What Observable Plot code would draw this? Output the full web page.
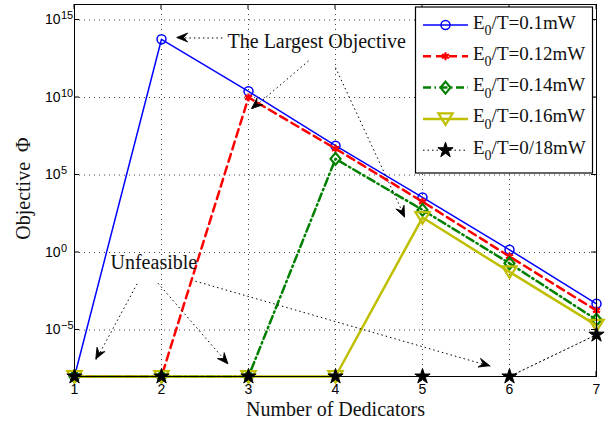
<!DOCTYPE html>
<html><head><meta charset="utf-8">
<script src="https://cdn.jsdelivr.net/npm/d3@7"></script>
<script src="https://cdn.jsdelivr.net/npm/@observablehq/plot@0.6"></script>
<style>
html,body{margin:0;padding:0;background:#fff;}
#wrap{position:relative;width:609px;height:422px;overflow:hidden;}
#wrap svg{position:absolute;left:0;top:0;}
</style></head><body><div id="wrap"></div>
<script>
// ---------- data ----------
const dedicators = [1, 2, 3, 4, 5, 6, 7];
const seriesLabels = ["0.1mW", "0.12mW", "0.14mW", "0.16mW", "0/18mW"];
const phi_010 = [1e-8, 5.7e13, 2.5e10, 7.8e6, 3.6e3, 1.5, 4.9e-4];
const phi_012 = [1e-8, 1e-8, 1.0e10, 5.0e6, 1.9e3, 0.55, 1.8e-4];
const phi_014 = [1e-8, 1e-8, 1e-8, 1.1e6, 5.6e2, 0.2, 4.6e-5];
const phi_016 = [1e-8, 1e-8, 1e-8, 1e-8, 1.8e2, 0.056, 2.0e-5];
const phi_018 = [1e-8, 1e-8, 1e-8, 1e-8, 1e-8, 1e-8, 5.0e-6];
const yTickValues = [1e-5, 1e0, 1e5, 1e10, 1e15];
const yTickExponents = ["\u22125", "0", "5", "10", "15"];
const xLabel = "Number of Dedicators";
const yLabel = "Objective  \u03A6";
const noteTexts = ["The Largest Objective", "Unfeasible"];
const noteX = [2.759, 1.414];
const noteY = [10 ** 13.63, 10 ** -0.64];
const arrowFromX = [2.70, 3.69, 4.00, 1.72, 1.96, 2.39];
const arrowFromY = [10 ** 13.84, 10 ** 12.36, 10 ** 11.93, 10 ** -2.02, 10 ** -1.98, 10 ** -1.85];
const arrowToX = [2.18, 3.04, 4.80, 1.25, 2.77, 5.78];
const arrowToY = [10 ** 13.84, 10 ** 9.25, 10 ** 2.25, 10 ** -6.91, 10 ** -7.22, 10 ** -7.34];

// ---------- styles ----------
const serif = "'Liberation Serif', 'Times New Roman', serif";
const sans = "'Liberation Sans', Arial, sans-serif";
const diamondSym = {draw(c, size) { const r = Math.sqrt(size / Math.PI); c.moveTo(0, -1.2 * r); c.lineTo(r, 0); c.lineTo(0, 1.2 * r); c.lineTo(-r, 0); c.closePath(); }};
const triDownSym = {draw(c, size) { const r = Math.sqrt(size / Math.PI); c.moveTo(-1.3 * r, -1.0 * r); c.lineTo(1.3 * r, -1.0 * r); c.lineTo(0, 1.1 * r); c.closePath(); }};
const seriesValues = [phi_010, phi_012, phi_014, phi_016, phi_018];
const styles = [
  {color: "#0000ff", width: 1.5, dash: null, symbol: "circle", d3sym: d3.symbolCircle, r: 4.5, fill: "none", mw: 1.5},
  {color: "#ff0000", width: 2.5, dash: "8,5", symbol: "asterisk", d3sym: d3.symbolAsterisk, r: 3.8, fill: "none", mw: 2.2},
  {color: "#008000", width: 2.5, dash: "8,3.5,1.5,3.5", symbol: diamondSym, d3sym: diamondSym, r: 5, fill: "none", mw: 2.2},
  {color: "#bfbf00", width: 2.5, dash: null, symbol: triDownSym, d3sym: triDownSym, r: 5.5, fill: "none", mw: 2.2},
  {color: "#000000", width: 1, dash: "1.5,3", symbol: "star", d3sym: d3.symbolStar, r: 4.8, fill: "#000000", mw: 1}
];

// ---------- custom function marks ----------
function innerTicks(index, scales, values, dimensions) {
  const {width, height, marginLeft, marginRight, marginTop, marginBottom} = dimensions;
  const x0 = marginLeft, x1 = width - marginRight, y0 = marginTop, y1 = height - marginBottom;
  const g = d3.create("svg:g").attr("stroke", "black").attr("stroke-width", 1);
  for (const v of dedicators) {
    const x = scales.x(v);
    g.append("line").attr("x1", x).attr("x2", x).attr("y1", y1).attr("y2", y1 - 5);
    g.append("line").attr("x1", x).attr("x2", x).attr("y1", y0).attr("y2", y0 + 5);
  }
  for (const v of yTickValues) {
    const y = scales.y(v);
    g.append("line").attr("x1", x0).attr("x2", x0 + 5).attr("y1", y).attr("y2", y);
    g.append("line").attr("x1", x1).attr("x2", x1 - 5).attr("y1", y).attr("y2", y);
  }
  return g.node();
}
function arrowHeads(index, scales) {
  const g = d3.create("svg:g").attr("fill", "black").attr("stroke", "black").attr("stroke-width", 0.8);
  arrowToX.forEach((_, i) => {
    const xa = scales.x(arrowFromX[i]), ya = scales.y(arrowFromY[i]);
    const xb = scales.x(arrowToX[i]), yb = scales.y(arrowToY[i]);
    const a = Math.atan2(yb - ya, xb - xa) * 180 / Math.PI;
    g.append("path").attr("d", "M0,0L-11,-4.5L-7,0L-11,4.5Z")
      .attr("transform", `translate(${xb},${yb}) rotate(${a})`);
  });
  return g.node();
}

// ---------- marks ----------
const marks = [
  Plot.gridY(yTickValues, {stroke: "#444", strokeOpacity: 1, strokeDasharray: "1,4"}),
  Plot.gridX(dedicators.slice(1, -1), {stroke: "#444", strokeOpacity: 1, strokeDasharray: "1,4"})
];
seriesValues.forEach((vals, k) => {
  const s = styles[k];
  const data = dedicators.map((x, i) => ({x, y: vals[i]}));
  marks.push(Plot.line(data, {x: "x", y: "y", stroke: s.color, strokeWidth: s.width, strokeDasharray: s.dash}));
  marks.push(Plot.dot(data, {x: "x", y: "y", symbol: s.symbol, r: s.r, stroke: s.color, fill: s.fill, strokeWidth: s.mw}));
});
marks.push(
  Plot.link(arrowFromX.map((_, i) => i), {
    x1: i => arrowFromX[i], y1: i => arrowFromY[i], x2: i => arrowToX[i], y2: i => arrowToY[i],
    stroke: "black", strokeWidth: 1, strokeDasharray: "1.5,3"
  }),
  arrowHeads,
  Plot.text(noteTexts, {x: (d, i) => noteX[i], y: (d, i) => noteY[i], text: d => d, textAnchor: "start",
    lineAnchor: "middle", fontSize: 20, fontFamily: serif, fill: "#111"}),
  Plot.frame({stroke: "black", strokeWidth: 1}),
  innerTicks,
  Plot.axisX(dedicators, {tickSize: 0, tickPadding: 8, fontSize: 14, fontFamily: sans, label: null, tickFormat: d => String(d)}),
  Plot.axisY(yTickValues, {tickSize: 0, tickPadding: 14, fontSize: 14, fontFamily: sans, label: null, tickFormat: () => "10"}),
  Plot.text(yTickValues, {y: d => d, frameAnchor: "left", text: (d, i) => yTickExponents[i], dx: -13.5, dy: -1,
    textAnchor: "start", lineAnchor: "bottom", fontSize: 11, fontFamily: sans}),
  Plot.text([xLabel], {frameAnchor: "bottom", text: d => d, dy: 33, textAnchor: "middle", lineAnchor: "middle",
    fontSize: 20, fontFamily: serif, fill: "#111"}),
  Plot.text([yLabel], {frameAnchor: "left", text: d => d, dx: -51, dy: -2, rotate: -90, textAnchor: "middle",
    lineAnchor: "middle", fontSize: 20, fontFamily: serif, fill: "#111"})
);

const chart = Plot.plot({
  width: 609, height: 422,
  marginLeft: 74, marginRight: 13, marginTop: 4, marginBottom: 46,
  x: {domain: [1, 7]},
  y: {type: "log", domain: [1e-8, 1e16]},
  style: {fontFamily: sans, fontSize: "14px", background: "white", color: "black", overflow: "visible"},
  marks
});
const wrap = document.getElementById("wrap");
wrap.appendChild(chart);

// ---------- legend (overlay) ----------
const leg = d3.select(wrap).append("svg").attr("width", 609).attr("height", 422)
  .style("position", "absolute").style("left", 0).style("top", 0);
leg.append("rect").attr("x", 415.5).attr("y", 7).attr("width", 177).attr("height", 166)
  .attr("fill", "white").attr("stroke", "black").attr("stroke-width", 1.2);
seriesLabels.forEach((lab, k) => {
  const s = styles[k];
  const y = 25 + k * 31.3;
  leg.append("line").attr("x1", 423).attr("x2", 468).attr("y1", y).attr("y2", y)
    .attr("stroke", s.color).attr("stroke-width", s.width).attr("stroke-dasharray", s.dash);
  leg.append("path").attr("d", d3.symbol().type(s.d3sym).size(Math.PI * s.r * s.r)())
    .attr("transform", `translate(445.5,${y})`)
    .attr("fill", s.fill).attr("stroke", s.color).attr("stroke-width", s.mw);
  const t = leg.append("text").attr("x", 473).attr("y", y + 3.5)
    .attr("font-family", serif).attr("font-size", 19).attr("fill", "#111");
  t.append("tspan").text("E");
  t.append("tspan").attr("dy", 6.5).attr("font-size", 14).text("0");
  t.append("tspan").attr("dy", -6.5).text("/T=" + lab);
});
</script></body></html>
